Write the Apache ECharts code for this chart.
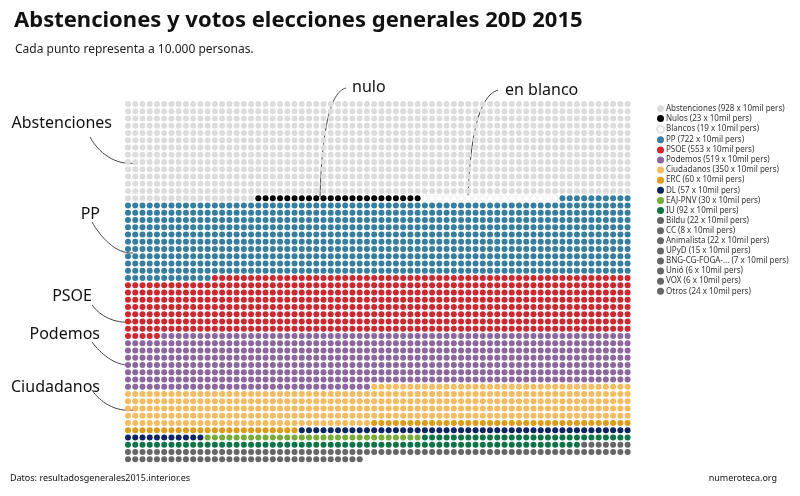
<!DOCTYPE html>
<html>
<head>
<meta charset="utf-8">
<script src="https://cdn.jsdelivr.net/npm/echarts@6/dist/echarts.min.js"></script>
<style>
  html, body { margin: 0; padding: 0; background: #fff; }
  #container { width: 800px; height: 496px; }
</style>
</head>
<body>
<div id="container"></div>
<script>
// datos: cada punto = 10.000 personas
var partyNames = ['Abstenciones', 'Nulos', 'Blancos', 'PP', 'PSOE', 'Podemos', 'Ciudadanos', 'ERC', 'DL',
    'EAJ-PNV', 'IU', 'Bildu', 'CC', 'Animalista', 'UPyD', 'BNG-CG-FOGA-...', 'Unió', 'VOX', 'Otros'];
var dotCounts = [928, 23, 19, 722, 553, 519, 350, 60, 57, 30, 92, 22, 8, 22, 15, 7, 6, 6, 24];
var partyColors = ['#dcdcdc', '#000000', '#ffffff', '#367ea0', '#d1262e', '#8c679e', '#f7bb5f', '#e09b16', '#0b2462',
    '#78ab38', '#0e7448', '#666666', '#666666', '#666666', '#666666', '#666666', '#666666', '#666666', '#666666'];
var columns = 70;
var rows = 50;

window.onload = function () {
    var dom = document.getElementById("container");
    var myChart = echarts.init(dom);
    var font = 'Noto Sans';

    // waffle: rellenar filas de izquierda a derecha
    var series = [];
    var idx = 0;
    for (var i = 0; i < partyNames.length; i++) {
        var pts = [];
        for (var k = 0; k < dotCounts[i]; k++) {
            pts.push([idx % columns, Math.floor(idx / columns)]);
            idx++;
        }
        var isBlank = partyNames[i] === 'Blancos';
        series.push({
            name: partyNames[i] + ' (' + dotCounts[i] + ' x 10mil pers)',
            type: 'scatter',
            symbol: 'circle',
            symbolSize: 6,
            silent: true,
            data: pts,
            itemStyle: {
                color: partyColors[i],
                borderColor: isBlank ? '#e2e2e2' : partyColors[i],
                borderWidth: isBlank ? 0.6 : 0,
                opacity: 1
            }
        });
    }

    var curve = function (pts) {
        return {
            type: 'bezierCurve',
            shape: { x1: pts[0], y1: pts[1], cpx1: pts[2], cpy1: pts[3], cpx2: pts[4], cpy2: pts[5], x2: pts[6], y2: pts[7] },
            style: { stroke: '#444', lineWidth: 1, fill: null }
        };
    };
    var label = function (txt, x, y, align) {
        return {
            type: 'text', x: x, y: y,
            style: { text: txt, font: '16px "' + font + '"', fill: '#111', textAlign: align || 'right', textVerticalAlign: 'middle' }
        };
    };

    var option = {
        animation: false,
        title: [{
            text: 'Abstenciones y votos elecciones generales 20D 2015',
            left: 9, top: 5,
            textStyle: { fontFamily: font, fontSize: 22, fontWeight: 'bold', color: '#111' }
        }, {
            text: 'Cada punto representa a 10.000 personas.',
            left: 10, top: 39,
            textStyle: { fontFamily: font, fontSize: 12, fontWeight: 'normal', color: '#222' }
        }],
        legend: {
            orient: 'vertical',
            left: 651,
            top: 99.5,
            icon: 'circle',
            itemWidth: 7,
            itemHeight: 7,
            itemGap: 2.1,
            selectedMode: false,
            textStyle: { fontFamily: font, fontSize: 8, color: '#333', padding: [0, 0, 0, -3], lineHeight: 7 }
        },
        grid: { left: 128, right: 172.4, top: 104, bottom: 36.7 },
        xAxis: { type: 'value', min: 0, max: columns - 1, show: false },
        yAxis: { type: 'value', min: 0, max: rows - 1, inverse: true, show: false },
        series: series,
        graphic: [
            label('Abstenciones', 112, 123),
            label('PP', 100, 214),
            label('PSOE', 92, 296),
            label('Podemos', 100, 334),
            label('Ciudadanos', 100, 387),
            label('nulo', 352, 87, 'left'),
            label('en blanco', 505, 90, 'left'),
            curve([90, 137, 98, 152, 115, 166, 136, 163]),
            curve([92, 222, 100, 236, 115, 254, 133, 253]),
            curve([92, 305, 100, 316, 115, 324, 132, 322]),
            curve([92, 342, 100, 353, 115, 366, 130, 365]),
            curve([92, 390, 100, 402, 115, 412, 133, 410]),
            curve([346, 88, 330, 92, 322, 130, 320, 197]),
            curve([498, 90, 478, 96, 470, 140, 468, 197]),
            {
                type: 'text', x: 10, y: 478,
                style: { text: 'Datos: resultadosgenerales2015.interior.es', font: '9px "' + font + '"', fill: '#111', textVerticalAlign: 'middle' }
            },
            {
                type: 'text', x: 777, y: 478,
                style: { text: 'numeroteca.org', font: '9px "' + font + '"', fill: '#111', textAlign: 'right', textVerticalAlign: 'middle' }
            }
        ]
    };
    myChart.setOption(option);
};
</script>
</body>
</html>
